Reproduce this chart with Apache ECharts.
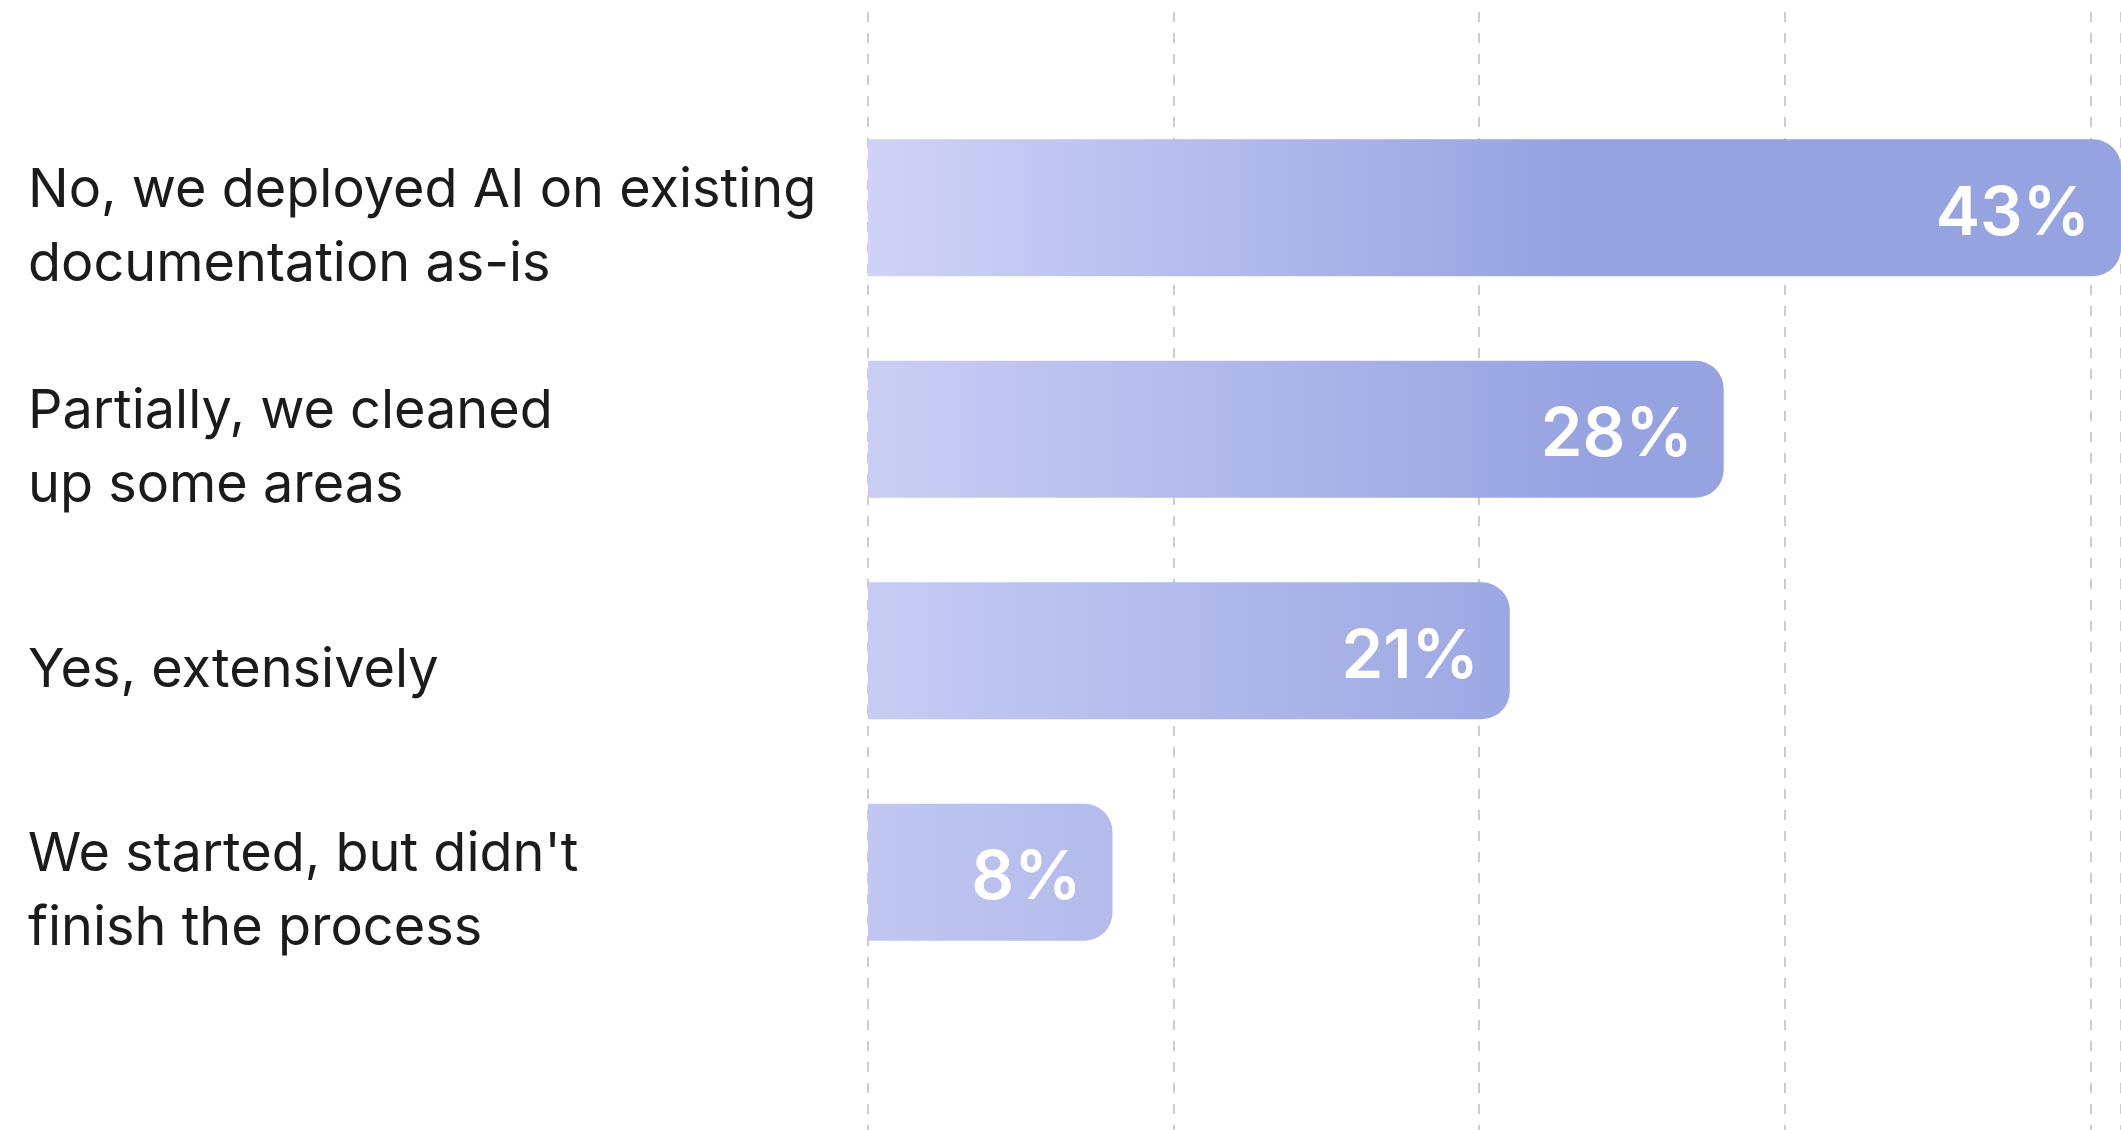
<!DOCTYPE html>
<html>
<head>
<meta charset="utf-8">
<script src="https://cdn.jsdelivr.net/npm/echarts@6/dist/echarts.min.js"></script>
<style>
html,body{margin:0;padding:0;background:#fff;}
#chart{width:2121px;height:1130px;}
</style>
</head>
<body>
<div id="chart"></div>
<script>
const categories = [
  "No, we deployed AI on existing\ndocumentation as-is",
  "Partially, we cleaned\nup some areas",
  "Yes, extensively",
  "We started, but didn't\nfinish the process"
];
const values = [43, 28, 21, 8];
const axisTicks = [0, 10, 20, 30, 40];

// colour ramp styling (light -> dark lavender)
const LIGHT = [211, 214, 248];
const DARK = [150, 163, 225];
function ramp(t) {
  t = Math.max(0, Math.min(1, t));
  const c = LIGHT.map((l, i) => Math.round(l + (DARK[i] - l) * t));
  return 'rgb(' + c.join(',') + ')';
}
const vMax = Math.max(...values);
const DARK_REACH = 24;
function barGradient(v) {
  const startT = 0.05 + 0.3 * (1 - v / vMax);
  const p = DARK_REACH / v;
  let stops;
  if (p <= 1) {
    stops = [{offset: 0, color: ramp(startT)}, {offset: p, color: ramp(1)}, {offset: 1, color: ramp(1)}];
  } else {
    stops = [{offset: 0, color: ramp(startT)}, {offset: 1, color: ramp(startT + (1 - startT) / p)}];
  }
  return new echarts.graphic.LinearGradient(0, 0, 1, 0, stops);
}

const chart = echarts.init(document.getElementById('chart'), null, {renderer: 'canvas'});

const option = {
  backgroundColor: '#ffffff',
  animation: false,
  grid: [
    {left: 868, right: -2, top: 12, bottom: 0},
    {left: 868, right: -2, top: 97, bottom: 147}
  ],
  xAxis: [
    {
      gridIndex: 0, type: 'value', min: axisTicks[0], max: 41, interval: axisTicks[1] - axisTicks[0],
      axisLine: {show: false}, axisTick: {show: false}, axisLabel: {show: false},
      splitLine: {show: true, lineStyle: {color: '#bdbdbd', width: 1.5, type: [10, 11]}}
    },
    {
      gridIndex: 1, type: 'value', min: axisTicks[0], max: 41, interval: axisTicks[1] - axisTicks[0],
      axisLine: {show: false}, axisTick: {show: false}, axisLabel: {show: false},
      splitLine: {show: false}
    }
  ],
  yAxis: [
    {gridIndex: 0, type: 'value', min: 0, max: 1, show: false, splitLine: {show: false}},
    {
      gridIndex: 1, type: 'category', inverse: true, data: categories,
      axisLine: {show: false}, axisTick: {show: false}, splitLine: {show: false},
      axisLabel: {
        align: 'left', margin: 840, fontSize: 54, lineHeight: 74,
        color: '#1b1b1b', fontFamily: 'Inter',
        formatter: function (v) { return '{g|}\n' + v; },
        rich: {g: {lineHeight: 40, fontSize: 10}}
      }
    }
  ],
  series: [
    {
      type: 'bar', xAxisIndex: 1, yAxisIndex: 1, clip: true,
      data: values.map(v => ({value: v, itemStyle: {color: barGradient(v)}})),
      barWidth: 137,
      itemStyle: {borderRadius: [0, 28, 28, 0]},
      label: {
        show: true, position: 'insideRight', distance: 31, offset: [0, 7],
        formatter: '{c}%', color: '#ffffff', fontSize: 67, fontWeight: 600, fontFamily: 'Inter'
      }
    }
  ]
};
chart.setOption(option);
</script>
</body>
</html>
